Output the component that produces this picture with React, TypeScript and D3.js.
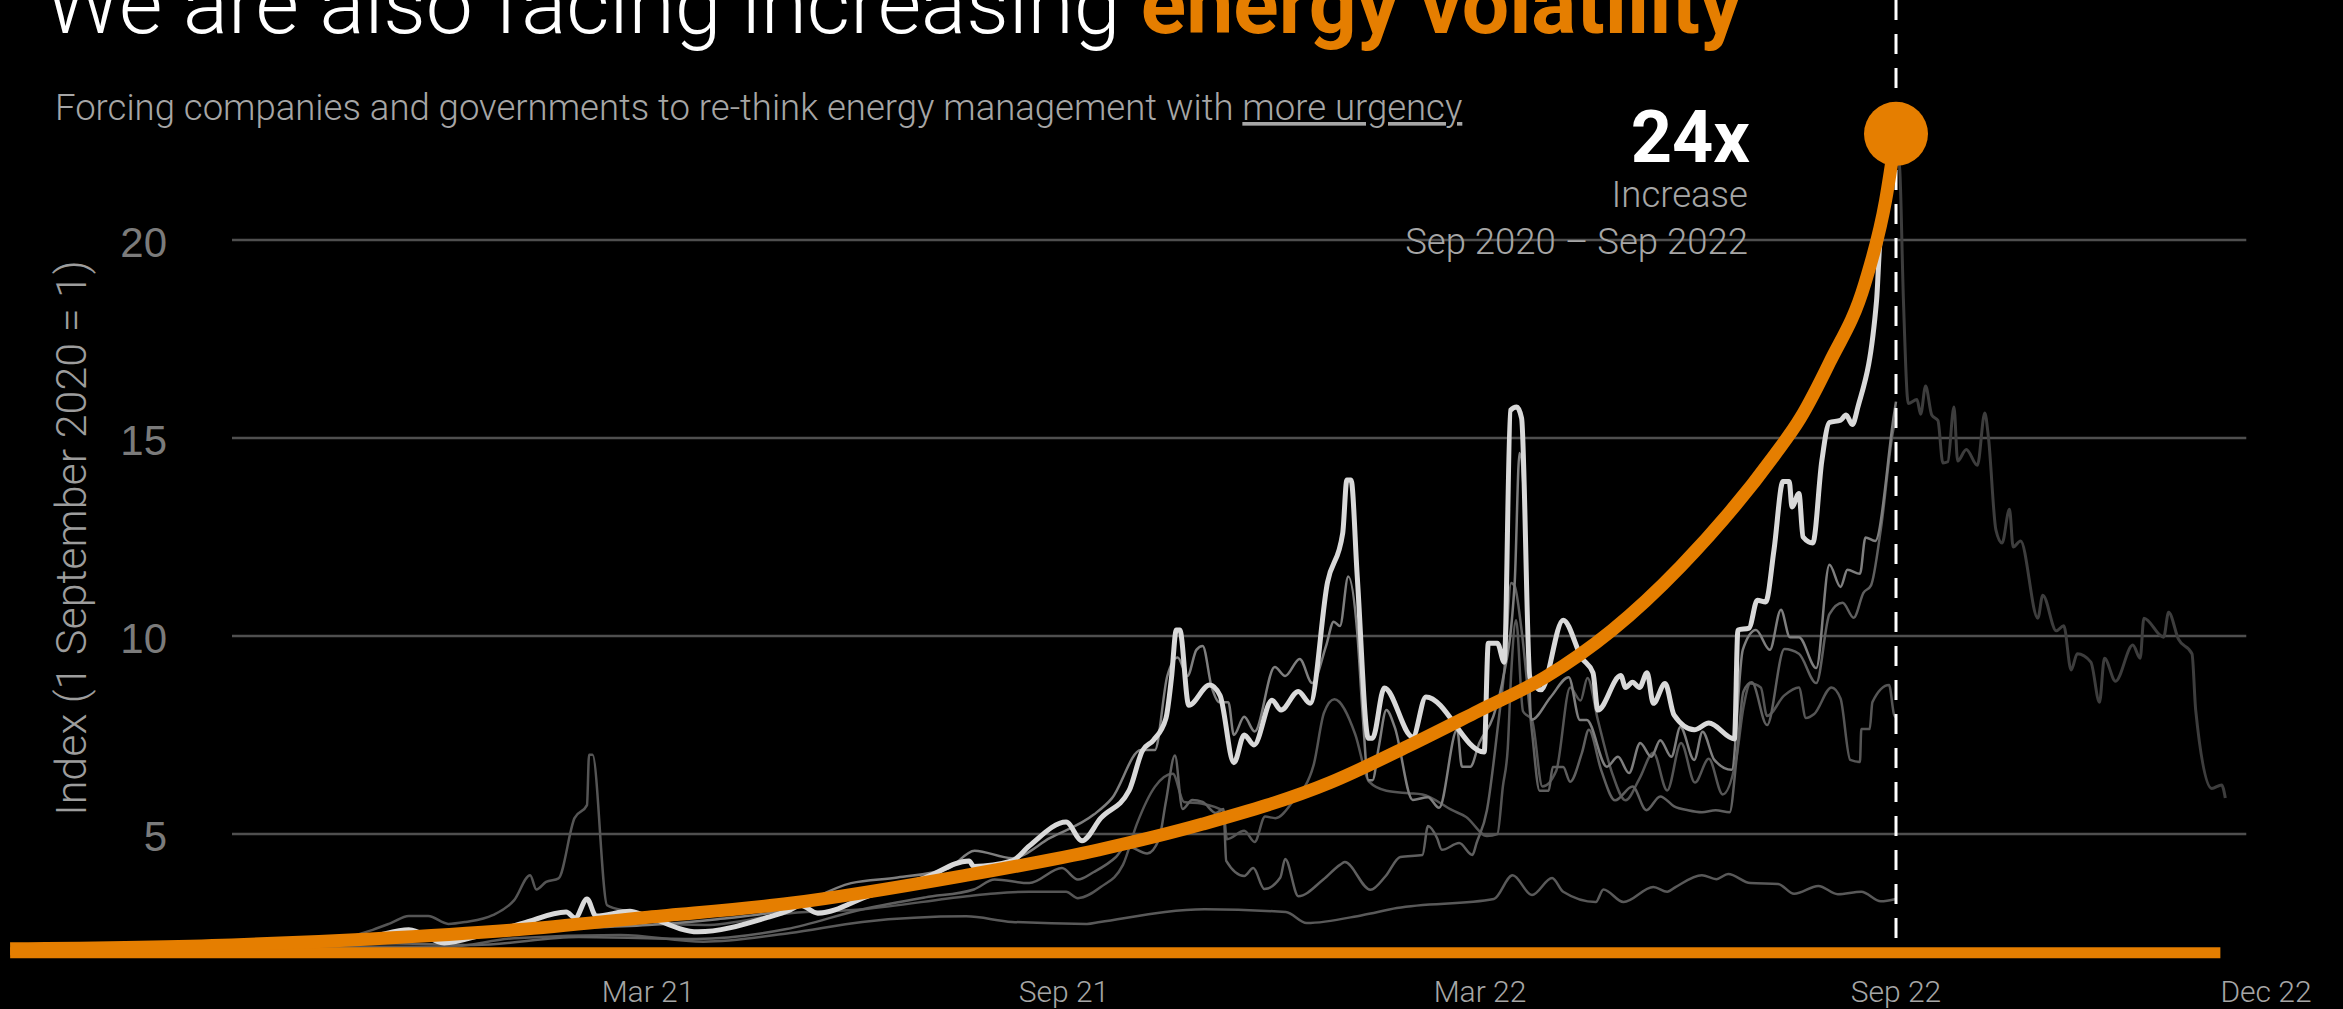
import React from "react";
import * as d3 from "d3";

const W = 2343;
const H = 1009;
const ORANGE = "#E57E00";
const LIGHT = "Roboto, 'Liberation Sans', Arial, sans-serif";

// x = months since 1 Sep 2020, y = index value
const whiteSeries: [number, number][] = [
  [0, 2.2], [1, 2.25], [2, 2.4], [2.55, 2.58], [3.06, 2.25], [3.6, 2.45], [4.2, 2.75], [4.82, 3.03],
  [4.95, 2.88], [5.12, 3.36], [5.25, 2.93], [5.74, 3.05], [5.94, 2.95], [6.72, 2.53], [7.7, 2.88],
  [8.05, 3.08], [8.2, 3.2], [8.45, 3.0], [9.2, 3.45], [10.0, 3.9], [10.63, 4.32], [10.7, 4.18],
  [11.25, 4.32], [11.5, 4.7], [12.03, 5.3], [12.26, 4.83], [12.53, 5.4], [12.94, 6.1], [13.13, 7.1],
  [13.29, 7.37], [13.47, 7.92], [13.55, 8.94], [13.62, 10.15], [13.67, 10.15], [13.8, 8.25],
  [14.1, 8.76], [14.25, 8.5], [14.45, 6.8], [14.6, 7.5], [14.74, 7.25], [15.0, 8.38], [15.13, 8.13],
  [15.38, 8.6], [15.55, 8.3], [15.8, 11.35], [16.02, 12.6], [16.08, 13.94], [16.14, 13.94],
  [16.23, 11.49], [16.39, 7.42], [16.45, 7.42], [16.62, 8.69], [17.03, 7.45], [17.22, 8.46],
  [18.06, 7.07], [18.12, 9.82], [18.25, 9.82], [18.35, 9.34], [18.44, 15.7], [18.53, 15.78],
  [18.6, 15.5], [18.72, 8.96], [18.88, 8.64], [19.2, 10.4], [19.47, 9.44], [19.63, 9.07],
  [19.7, 8.13], [20.03, 9.0], [20.1, 8.7], [20.2, 8.83], [20.3, 8.7], [20.41, 9.07], [20.5, 8.3],
  [20.67, 8.8], [20.8, 8.0], [21.09, 7.63], [21.3, 7.8], [21.67, 7.4], [21.72, 10.15], [21.88, 10.2],
  [22.0, 10.9], [22.12, 10.86], [22.24, 12.17], [22.37, 13.9], [22.46, 13.9], [22.5, 13.26],
  [22.6, 13.6], [22.66, 12.5], [22.8, 12.35], [22.93, 14.42], [23.04, 15.39], [23.2, 15.45],
  [23.28, 15.58], [23.37, 15.34], [23.45, 15.78], [23.72, 18.48], [23.76, 19.75], [23.9, 21.6],
  [24.0, 22.4],
];

// same series after Sep 2022, shown dimmed
const whiteAfter: [number, number][] = [
  [24.0, 22.4], [24.03, 21.8], [24.06, 18.5], [24.1, 15.87], [24.17, 15.97], [24.2, 15.6],
  [24.24, 16.31], [24.29, 15.58], [24.34, 15.44], [24.38, 14.37], [24.42, 14.4], [24.47, 15.78],
  [24.5, 14.42], [24.57, 14.71], [24.66, 14.31], [24.72, 15.63], [24.75, 15.0], [24.81, 12.68],
  [24.86, 12.35], [24.92, 13.2], [24.95, 12.25], [25.01, 12.4], [25.15, 10.45], [25.19, 11.03],
  [25.3, 10.13], [25.36, 10.26], [25.42, 9.14], [25.47, 9.55], [25.58, 9.34], [25.65, 8.33],
  [25.69, 9.44], [25.78, 8.86], [25.92, 9.77], [25.98, 9.44], [26.01, 10.45], [26.17, 9.97],
  [26.21, 10.6], [26.29, 9.92], [26.4, 9.55], [26.43, 8.13], [26.56, 6.15], [26.64, 6.24],
  [26.67, 5.91],
];

const grayA: [number, number][] = [
  [0, 2.2], [1.5, 2.3], [3, 2.45], [4.5, 2.6], [6, 2.7], [7, 2.85], [8, 3.1], [8.93, 3.76], [9.6, 3.9],
  [10.33, 4.13], [10.71, 4.58], [11.25, 4.39], [11.8, 4.9], [12.43, 5.49], [12.69, 5.9], [13.11, 7.12],
  [13.31, 7.12], [13.49, 8.99], [13.64, 9.46], [13.78, 8.99], [13.91, 9.65], [14.0, 9.75],
  [14.13, 8.71], [14.24, 8.33], [14.37, 8.33], [14.45, 7.5], [14.6, 7.96], [14.75, 7.59],
  [15.04, 9.22], [15.19, 8.99], [15.4, 9.42], [15.58, 8.81], [15.78, 9.75], [15.89, 10.36],
  [15.98, 10.25], [16.1, 11.5], [16.23, 10.08], [16.31, 7.96], [16.39, 6.36], [16.45, 6.36],
  [16.54, 7.2], [16.65, 8.13], [16.77, 7.7], [17.03, 5.86], [17.25, 5.93], [17.41, 5.66],
  [17.67, 7.63], [17.74, 6.7], [17.86, 6.7], [17.99, 7.3], [18.19, 7.96], [18.32, 8.81],
  [18.5, 11.34], [18.57, 14.62], [18.66, 12.5], [18.74, 7.88], [19.02, 8.46], [19.28, 8.96],
  [19.44, 7.88], [19.54, 7.88], [19.83, 6.7], [19.99, 6.95], [20.15, 6.54], [20.31, 7.3],
  [20.47, 6.95], [20.6, 7.37], [20.76, 6.95], [20.89, 7.7], [21.09, 6.87], [21.21, 7.58],
  [21.38, 6.87], [21.63, 6.62], [21.79, 9.65], [21.98, 10.15], [22.18, 9.65], [22.34, 10.66],
  [22.47, 9.97], [22.6, 9.97], [22.85, 9.19], [23.04, 11.8], [23.2, 11.24], [23.3, 11.67],
  [23.48, 11.57], [23.56, 12.49], [23.7, 12.4], [23.97, 15.58], [24.0, 15.92],
];

const grayB: [number, number][] = [
  [0, 2.2], [2, 2.25], [3.5, 2.2], [5, 2.4], [6.7, 2.35], [8, 2.6], [9.1, 3.1], [10.0, 3.4],
  [10.7, 3.6], [11.0, 3.85], [11.5, 3.76], [11.97, 4.14], [12.2, 3.85], [12.43, 4.04], [12.75, 4.42],
  [12.9, 4.7], [13.2, 4.51], [13.37, 4.87], [13.47, 5.82], [13.6, 6.98], [13.71, 5.63], [13.85, 5.86],
  [14.0, 5.81], [14.19, 5.53], [14.3, 5.63], [14.34, 4.32], [14.6, 3.94], [14.73, 4.14], [14.89, 3.61],
  [15.12, 3.9], [15.19, 4.37], [15.38, 3.43], [15.74, 3.85], [15.98, 4.22], [16.05, 4.29],
  [16.42, 3.59], [16.64, 3.94], [16.85, 4.42], [17.17, 4.47], [17.25, 5.2], [17.38, 4.9],
  [17.45, 4.6], [17.7, 4.77], [17.89, 4.47], [17.95, 4.77], [18.1, 5.6], [18.26, 7.75],
  [18.35, 9.12], [18.45, 11.34], [18.5, 11.26], [18.6, 10.14], [18.75, 7.58], [18.86, 6.09],
  [18.99, 6.09], [19.05, 6.69], [19.2, 6.69], [19.3, 6.32], [19.47, 7.05], [19.57, 7.63],
  [19.75, 6.6], [19.95, 5.85], [20.2, 6.2], [20.4, 5.6], [20.6, 5.95], [20.8, 5.7], [21.0, 5.6],
  [21.2, 5.55], [21.4, 5.6], [21.6, 5.55], [21.7, 6.9], [21.8, 8.6], [21.92, 8.83], [22.14, 7.75],
  [22.39, 9.67], [22.6, 9.55], [22.85, 8.81], [23.04, 10.55], [23.23, 10.84], [23.39, 10.46],
  [23.53, 11.09], [23.64, 11.28], [23.78, 12.68], [23.96, 15.2], [24.0, 15.5],
];

const grayC: [number, number][] = [
  [0, 2.15], [1, 2.2], [2.03, 2.58], [2.29, 2.75], [2.55, 2.93], [2.83, 2.93], [3.12, 2.73],
  [3.37, 2.78], [3.76, 2.95], [4.07, 3.33], [4.3, 3.96], [4.39, 3.6], [4.53, 3.79], [4.71, 3.88],
  [4.94, 5.4], [5.12, 5.73], [5.15, 7.0], [5.2, 7.0], [5.41, 3.2], [5.74, 3.03], [6.15, 2.75],
  [6.82, 2.7], [8.05, 3.0], [9.1, 3.1], [10.6, 3.43], [11.0, 3.5], [11.5, 3.54], [12.03, 3.54],
  [12.2, 3.38], [12.53, 3.66], [12.85, 4.22], [13.05, 5.25], [13.31, 6.19], [13.57, 6.52],
  [13.73, 5.81], [13.98, 5.77], [14.3, 5.58], [14.35, 4.87], [14.6, 5.08], [14.75, 4.8], [14.9, 5.44],
  [15.05, 5.4], [15.3, 5.82], [15.6, 6.74], [15.75, 8.06], [15.9, 8.4], [16.2, 7.52], [16.4, 6.32],
  [16.65, 6.09], [16.97, 6.03], [17.17, 6.0], [17.6, 5.6], [17.8, 5.43], [18.1, 4.95], [18.25, 5.0],
  [18.33, 6.2], [18.4, 7.16], [18.45, 9.07], [18.52, 10.4], [18.62, 8.1], [18.75, 7.88], [18.9, 6.2],
  [19.1, 6.6], [19.3, 8.7], [19.45, 8.37], [19.55, 8.94], [19.7, 7.88], [19.9, 6.57], [20.1, 5.85],
  [20.3, 6.4], [20.5, 7.05], [20.7, 6.1], [20.9, 7.3], [21.1, 6.3], [21.3, 6.9], [21.5, 6.0],
  [21.7, 6.95], [21.8, 8.2], [21.9, 8.8], [22.05, 8.7], [22.14, 7.98], [22.39, 8.5], [22.6, 8.7],
  [22.7, 7.93], [22.82, 8.03], [23.07, 8.7], [23.2, 8.42], [23.34, 6.87], [23.48, 6.82], [23.5, 7.65],
  [23.62, 7.65], [23.66, 8.33], [23.9, 8.76], [23.97, 8.03], [24.0, 7.94],
];

const grayLow: [number, number][] = [
  [0, 2.15], [3.1, 2.15], [4.07, 2.37], [5.6, 2.45], [6.8, 2.28], [8.05, 2.5], [9.09, 2.78],
  [10.59, 2.92], [11.25, 2.78], [12.33, 2.73], [12.52, 2.78], [14.03, 3.1], [15.2, 3.03], [15.5, 2.75],
  [16.3, 2.95], [16.8, 3.13], [18.2, 3.36], [18.47, 3.96], [18.75, 3.46], [19.04, 3.89], [19.2, 3.54],
  [19.67, 3.28], [19.78, 3.6], [20.07, 3.28], [20.5, 3.66], [20.7, 3.54], [20.82, 3.66], [21.2, 3.96],
  [21.41, 3.86], [21.58, 3.99], [21.9, 3.76], [22.3, 3.74], [22.53, 3.49], [22.88, 3.69],
  [23.16, 3.48], [23.5, 3.54], [23.78, 3.3], [24.0, 3.36],
];

const orangeTrend: [number, number][] = [
  [-3.2, 2.1], [0, 2.2], [2, 2.35], [4.1, 2.58], [6, 2.9], [8.05, 3.25], [10.5, 3.93], [12.5, 4.6],
  [14, 5.25], [15.84, 6.3], [17, 7.25], [17.97, 8.1], [18.95, 8.97], [19.9, 10.14], [20.89, 11.75],
  [22.24, 14.55], [22.62, 15.5], [23.04, 16.9], [23.55, 18.9], [23.85, 21.0], [24, 22.68],
];

const peak = { m: 24, v: 22.68 };
const baseValue = 2.0;
const baseSpan = [-3.2, 26.63];
const gridSpan = [0, 26.84];

const yTicks = [5, 10, 15, 20];
const xTicks = [6, 12, 18, 24, 27];
const xTickLabels = ["Mar 21", "Sep 21", "Mar 22", "Sep 22", "Dec 22"];

const grays = [
  { data: grayLow, color: "#595959" },
  { data: grayC, color: "#555555" },
  { data: grayB, color: "#5f5f5f" },
  { data: grayA, color: "#7e7e7e" },
];

export default function App() {
  const x = d3.scaleLinear().domain([0, 24, 27]).range([232, 1896, 2266]);
  const y = d3.scaleLinear().domain([5, 20]).range([834, 240]);

  const line = d3
    .line<[number, number]>()
    .x(d => x(d[0]))
    .y(d => y(d[1]))
    .curve(d3.curveMonotoneX);

  const px = x(peak.m);
  const py = y(peak.v);
  const baseY = y(baseValue);

  return (
    <svg
      width={W}
      height={H}
      style={{ position: "absolute", left: 0, top: 0, display: "block", background: "#000" }}
    >
      <defs>
        <linearGradient id="lead" x1="0" x2="1" y1="0" y2="0">
          <stop offset="0" stopColor="#333" />
          <stop offset="1" stopColor="#b5b5b5" />
        </linearGradient>
      </defs>
      <rect width={W} height={H} fill="#000" />

      {/* title */}
      <text x={45} y={33} fontFamily={LIGHT} fontWeight={300} fontSize={84} fill="#fff">
        We are also facing increasing{" "}
        <tspan fill={ORANGE} fontWeight={700}>energy volatility</tspan>
      </text>
      <text x={55} y={120} fontFamily={LIGHT} fontWeight={300} fontSize={36.5} fill="#a6a6a6">
        Forcing companies and governments to re-think energy management with{" "}
        <tspan style={{ textDecoration: "underline" }}>more urgency</tspan>
      </text>

      {/* grid */}
      {yTicks.map(t => (
        <g key={t}>
          <line x1={x(gridSpan[0])} x2={x(gridSpan[1])} y1={y(t)} y2={y(t)} stroke="#4f4f4f" strokeWidth={2.5} />
          <text x={167} y={y(t) + 17} textAnchor="end" fontFamily="'Liberation Sans', Arial, sans-serif"
            fontSize={42} fill="#7b7b7b">{t}</text>
        </g>
      ))}

      <text transform="translate(86,538) rotate(-90)" textAnchor="middle" fontFamily={LIGHT}
        fontWeight={300} fontSize={43} fill="#9d9d9d">Index (1 September 2020 = 1)</text>

      {xTicks.map((t, i) => (
        <text key={t} x={x(t)} y={1002} textAnchor="middle" fontFamily={LIGHT} fontWeight={300}
          fontSize={30} fill="#a6a6a6">{xTickLabels[i]}</text>
      ))}

      {/* series */}
      <path d={line(whiteAfter) ?? ""} fill="none" stroke="#3d3d3d" strokeWidth={3} strokeLinejoin="round" />
      {grays.map((g, i) => (
        <path key={i} d={line(g.data) ?? ""} fill="none" stroke={g.color} strokeWidth={2.5} strokeLinejoin="round" />
      ))}
      <path d={line(whiteSeries) ?? ""} fill="none" stroke="#d9d9d9" strokeWidth={5} strokeLinejoin="round" />

      {/* Sep 22 marker */}
      <line x1={px} x2={px} y1={0} y2={baseY - 8} stroke="#fff" strokeWidth={3} strokeDasharray="20 14" />

      {/* orange trend */}
      <line x1={x(baseSpan[0])} x2={x(baseSpan[1])} y1={baseY} y2={baseY} stroke={ORANGE} strokeWidth={11} />
      <path d={line(orangeTrend) ?? ""} fill="none" stroke={ORANGE} strokeWidth={13} />
      <line x1={1756} x2={px - 30} y1={py} y2={py} stroke="url(#lead)" strokeWidth={3} />
      <circle cx={px} cy={py} r={32} fill={ORANGE} />

      <text x={1750} y={162} textAnchor="end" fontFamily={LIGHT} fontWeight={700} fontSize={72} fill="#fff">24x</text>
      <text x={1748} y={207} textAnchor="end" fontFamily={LIGHT} fontWeight={300} fontSize={36.5} fill="#a6a6a6">Increase</text>
      <text x={1748} y={254} textAnchor="end" fontFamily={LIGHT} fontWeight={300} fontSize={36.5} fill="#a6a6a6">Sep 2020 – Sep 2022</text>
    </svg>
  );
}
